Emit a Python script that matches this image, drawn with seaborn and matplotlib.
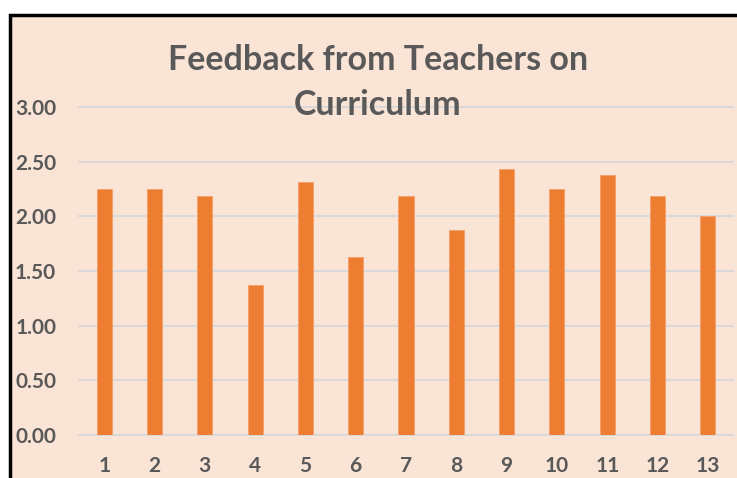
import seaborn as sns
import matplotlib.pyplot as plt
import pandas as pd
from matplotlib.patches import Rectangle

# Chart data
questions = [str(i) for i in range(1, 14)]
scores = [2.25, 2.25, 2.1875, 1.375, 2.3125, 1.625, 2.1875, 1.875, 2.4375, 2.25, 2.375, 2.1875, 2.00]
y_ticks = [0.0, 0.5, 1.0, 1.5, 2.0, 2.5, 3.0]

df = pd.DataFrame({'question': questions, 'score': scores})

bg = '#FAE4D6'
grey = '#595959'

sns.set_style('white')
plt.rcParams['font.family'] = ['Lato', 'DejaVu Sans']

fig = plt.figure(figsize=(7.37, 4.78), dpi=100)
fig.patch.set_facecolor('white')

# chart area with black border (cropped at right and bottom)
fig.patches.append(Rectangle((9.5 / 737, -0.1), 1.2, 1 - 15.5 / 478 + 0.1,
                             transform=fig.transFigure, facecolor=bg,
                             edgecolor='black', linewidth=2.5, zorder=-10))

ax = fig.add_axes([79 / 737, 1 - 435 / 478, (733 - 79) / 737, (435 - 107) / 478])
ax.set_facecolor('none')

sns.barplot(data=df, x='question', y='score', color='#ED7D31', width=0.3,
            saturation=1, edgecolor='#F4A06A', linewidth=0.6, ax=ax, zorder=3)

ax.set_ylim(0, 3)
ax.set_yticks(y_ticks)
ax.set_yticklabels([f'{v:.2f}' for v in y_ticks])
ax.yaxis.grid(True, color='#D9D9D9', linewidth=1.5, zorder=0)
for gl in ax.get_ygridlines():
    gl.set_clip_on(False)
ax.set_axisbelow(True)
for s in ax.spines.values():
    s.set_visible(False)
ax.set_xlabel('')
ax.set_ylabel('')
ax.tick_params(axis='both', length=0, labelcolor=grey, labelsize=15)
ax.tick_params(axis='y', pad=16.5)
ax.tick_params(axis='x', pad=15)
for lbl in ax.get_xticklabels() + ax.get_yticklabels():
    lbl.set_fontweight('bold')

fig.text(378 / 737, 1 - 60 / 478, 'Feedback from Teachers on', ha='center', va='center',
         fontsize=24.5, fontweight='bold', color=grey)
fig.text(378 / 737, 1 - 105 / 478, 'Curriculum', ha='center', va='center',
         fontsize=24.5, fontweight='bold', color=grey)

fig.savefig('out.png', dpi=100)
